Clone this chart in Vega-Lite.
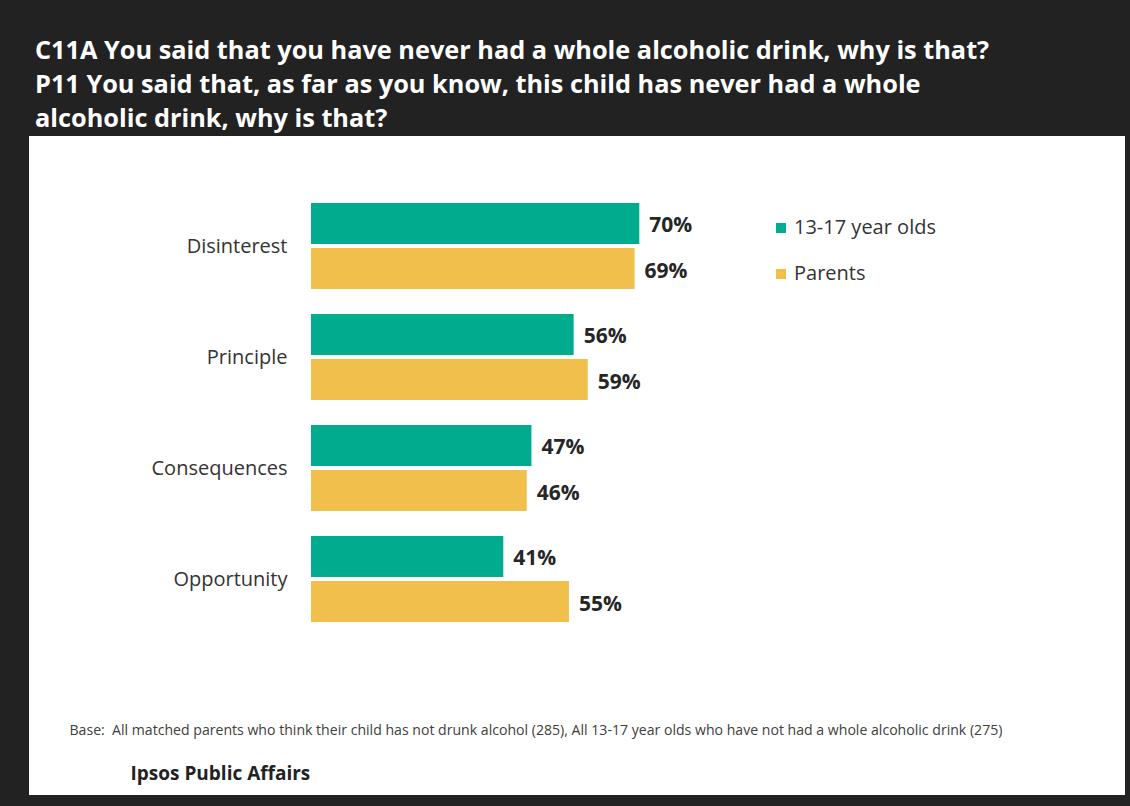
{
  "$schema": "https://vega.github.io/schema/vega-lite/v6.json",
  "width": 1096,
  "height": 659,
  "autosize": {"type": "none"},
  "padding": {"left": 29, "top": 136, "right": 5, "bottom": 11},
  "background": "#222222",
  "title": {
    "text": [
      "C11A You said that you have never had a whole alcoholic drink, why is that?",
      "P11 You said that, as far as you know, this child has never had a whole",
      "alcoholic drink, why is that?"
    ],
    "anchor": "start",
    "frame": "group",
    "color": "#ffffff",
    "font": "Open Sans",
    "fontSize": 25.3,
    "fontWeight": "bold",
    "lineHeight": 34,
    "offset": 4,
    "dx": 6
  },
  "data": {
    "values": [
      {"reason": "Disinterest", "group": "13-17 year olds", "share": 0.70},
      {"reason": "Disinterest", "group": "Parents", "share": 0.69},
      {"reason": "Principle", "group": "13-17 year olds", "share": 0.56},
      {"reason": "Principle", "group": "Parents", "share": 0.59},
      {"reason": "Consequences", "group": "13-17 year olds", "share": 0.47},
      {"reason": "Consequences", "group": "Parents", "share": 0.46},
      {"reason": "Opportunity", "group": "13-17 year olds", "share": 0.41},
      {"reason": "Opportunity", "group": "Parents", "share": 0.55}
    ]
  },
  "encoding": {
    "y": {
      "field": "reason",
      "type": "nominal",
      "sort": null,
      "scale": {"range": [54.5, 498.5], "paddingInner": 0.225, "paddingOuter": 0.1125},
      "axis": {
        "orient": "left",
        "offset": -282,
        "domain": false,
        "ticks": false,
        "grid": false,
        "labelPadding": 24,
        "labelFont": "Open Sans",
        "labelFontSize": 20,
        "labelColor": "#333333",
        "labelBaseline": "middle",
        "labelOffset": 1,
        "title": "Ipsos Public Affairs",
        "titleAngle": 0,
        "titleX": -181,
        "titleY": 637,
        "titleAlign": "left",
        "titleBaseline": "middle",
        "titleFont": "Open Sans",
        "titleFontSize": 19,
        "titleFontWeight": "bold",
        "titleColor": "#222222"
      }
    },
    "yOffset": {
      "field": "group",
      "type": "nominal",
      "sort": ["13-17 year olds", "Parents"],
      "scale": {"paddingInner": 0.09, "paddingOuter": 0}
    },
    "x": {
      "field": "share",
      "type": "quantitative",
      "scale": {"domain": [0, 1], "range": [282, 751]},
      "axis": {
        "orient": "bottom",
        "domain": false,
        "ticks": false,
        "labels": false,
        "grid": false,
        "title": "Base:\u00a0 All matched parents who think their child has not drunk alcohol (285), All 13-17 year olds who have not had a whole alcoholic drink (275)",
        "titleX": 40,
        "titleY": -65,
        "titleAlign": "left",
        "titleBaseline": "middle",
        "titleFont": "Open Sans",
        "titleFontSize": 14.1,
        "titleFontWeight": "normal",
        "titleColor": "#404040"
      }
    }
  },
  "layer": [
    {
      "mark": {"type": "bar"},
      "encoding": {
        "color": {
          "field": "group",
          "type": "nominal",
          "scale": {"domain": ["13-17 year olds", "Parents"], "range": ["#00ab8e", "#f1bf4b"]},
          "legend": {
            "orient": "none",
            "legendX": 742,
            "legendY": 82,
            "title": null,
            "padding": 0,
            "symbolType": "square",
            "symbolSize": 100,
            "symbolStrokeWidth": 0,
            "labelFont": "Open Sans",
            "labelFontSize": 20,
            "labelColor": "#333333",
            "labelOffset": 3,
            "rowPadding": 26
          }
        }
      }
    },
    {
      "mark": {"type": "text", "align": "left", "baseline": "middle", "dx": 10, "dy": 3, "font": "Open Sans", "fontSize": 21, "fontWeight": "bold", "color": "#262626"},
      "encoding": {"text": {"field": "share", "type": "quantitative", "format": ".0%"}}
    }
  ],
  "config": {"view": {"fill": "#ffffff", "stroke": null}}
}
